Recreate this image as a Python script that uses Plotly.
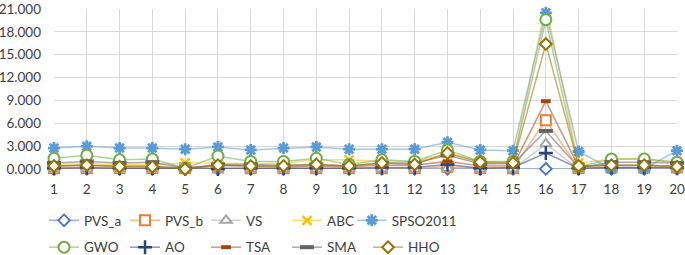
import plotly.graph_objects as go

categories = list(range(1, 21))
PVS_a = [0.02, 0.03, 0.02, 0.02, 0.02, 0.02, 0.02, 0.02, 0.02, 0.02, 0.02, 0.02, 0.03, 0.02, 0.02, 0.02, 0.02, 0.02, 0.02, 0.02]
PVS_b = [0.1, 0.1, 0.1, 0.1, 0.1, 0.2, 0.1, 0.1, 0.1, 0.1, 0.1, 0.1, 0.3, 0.1, 0.1, 6.4, 0.1, 0.2, 0.2, 0.2]
VS = [0.0, 0.0, 0.0, 0.0, 0.0, 0.0, 0.0, 0.0, 0.0, 0.0, 0.0, 0.0, 0.1, 0.0, 0.0, 3.3, 0.0, 0.1, 0.1, 0.0]
ABC = [0.6, 0.7, 0.6, 0.6, 0.8, 0.8, 0.7, 0.8, 1.2, 1.2, 1.0, 1.0, 2.0, 1.0, 0.9, 21.6, 0.8, 1.3, 1.3, 0.9]
SPSO2011 = [2.75, 3.0, 2.75, 2.75, 2.6, 2.9, 2.5, 2.75, 2.9, 2.6, 2.6, 2.6, 3.5, 2.5, 2.4, 20.5, 2.3, 0.0, 0.0, 2.4]
GWO = [1.4, 1.8, 1.2, 1.3, 0.1, 1.7, 1.0, 1.0, 1.4, 0.6, 1.2, 1.0, 2.5, 1.0, 1.0, 19.6, 0.3, 1.3, 1.3, 0.9]
AO = [0.1, 0.2, 0.1, 0.1, 0.0, 0.0, 0.1, 0.1, 0.1, 0.1, 0.2, 0.2, 0.6, 0.1, 0.2, 2.1, 0.1, 0.2, 0.2, 0.2]
TSA = [0.4, 0.5, 0.4, 0.4, 0.1, 0.5, 0.4, 0.3, 0.4, 0.3, 0.5, 0.5, 1.0, 0.4, 0.4, 8.9, 0.3, 0.5, 0.5, 0.4]
SMA = [0.8, 1.0, 0.8, 0.9, 0.1, 0.6, 0.6, 0.5, 0.6, 0.4, 0.8, 0.8, 1.8, 0.7, 0.7, 5.0, 0.2, 0.9, 0.9, 0.8]
HHO = [0.4, 0.5, 0.3, 0.3, 0.0, 0.5, 0.4, 0.4, 0.6, 0.4, 0.8, 0.6, 2.1, 0.9, 0.8, 16.4, 0.4, 0.5, 0.5, 0.3]

y_ticks = [0, 3, 6, 9, 12, 15, 18, 21]
y_tick_text = ["0.000", "3.000", "6.000", "9.000", "12.000", "15.000", "18.000", "21.000"]

series = [
    ("PVS_a", PVS_a, (68, 114, 196), "diamond", "white", 9, 1.8, "legend"),
    ("PVS_b", PVS_b, (237, 125, 49), "square", "white", 10, 2, "legend"),
    ("VS", VS, (165, 165, 165), "triangle-up", "white", 10, 2, "legend"),
    ("ABC", ABC, (255, 192, 0), "x-thin", None, 9, 2.5, "legend"),
    ("SPSO2011", SPSO2011, (91, 155, 213), "asterisk", None, 10, 2.8, "legend3"),
    ("GWO", GWO, (112, 173, 71), "circle", "white", 11, 2, "legend2"),
    ("AO", AO, (38, 68, 120), "cross-thin", None, 10, 2.5, "legend2"),
    ("TSA", TSA, (158, 72, 14), "line-ew", None, 7, 4, "legend2"),
    ("SMA", SMA, (99, 99, 99), "line-ew", None, 10, 4, "legend2"),
    ("HHO", HHO, (153, 115, 0), "diamond", "white", 9, 2, "legend2"),
]

fig = go.Figure()
for name, vals, rgb, sym, fill, size, lw, leg in series:
    solid = "rgb(%d,%d,%d)" % rgb
    light = "rgba(%d,%d,%d,0.55)" % rgb
    marker = dict(symbol=sym, size=size, line=dict(color=solid, width=lw))
    marker["color"] = fill if fill else solid
    fig.add_trace(go.Scatter(
        x=categories, y=vals, name=name, mode="lines+markers",
        line=dict(color=light, width=1.5), marker=marker,
        cliponaxis=False, legend=leg,
    ))

font = dict(family="Lato, Liberation Sans, sans-serif", size=13.5, color="#404040")
leg_common = dict(orientation="h", xanchor="left", yanchor="middle",
                  entrywidth=36, entrywidthmode="pixels", font=font,
                  bgcolor="rgba(0,0,0,0)", itemwidth=30)

fig.update_layout(
    width=685, height=255,
    margin=dict(l=54, r=8, t=9, b=86, autoexpand=False),
    paper_bgcolor="white", plot_bgcolor="white",
    font=font,
    showlegend=True,
    legend=dict(**leg_common, x=-0.016, y=-0.322),
    legend2=dict(**leg_common, x=-0.016, y=-0.49),
    legend3=dict(orientation="h", xanchor="left", yanchor="middle", font=font,
                 bgcolor="rgba(0,0,0,0)", itemwidth=30, x=0.478, y=-0.322),
    xaxis=dict(range=[1, 20], tickmode="array", tickvals=categories,
               ticktext=[str(c) for c in categories], ticklabeloverflow="allow",
               showgrid=True, gridcolor="#D9D9D9", gridwidth=1,
               zeroline=False, showline=False, ticks="", ticklabelstandoff=10),
    yaxis=dict(range=[0, 21], tickmode="array", tickvals=y_ticks, ticktext=y_tick_text,
               ticklabeloverflow="allow",
               showgrid=True, gridcolor="#D9D9D9", gridwidth=1,
               zeroline=False, showline=False, ticks="", ticklabelstandoff=12),
)

fig.write_html("out.html", config={"displayModeBar": False},
               post_script="document.body.style.margin='0px';document.body.style.overflow='hidden';")
